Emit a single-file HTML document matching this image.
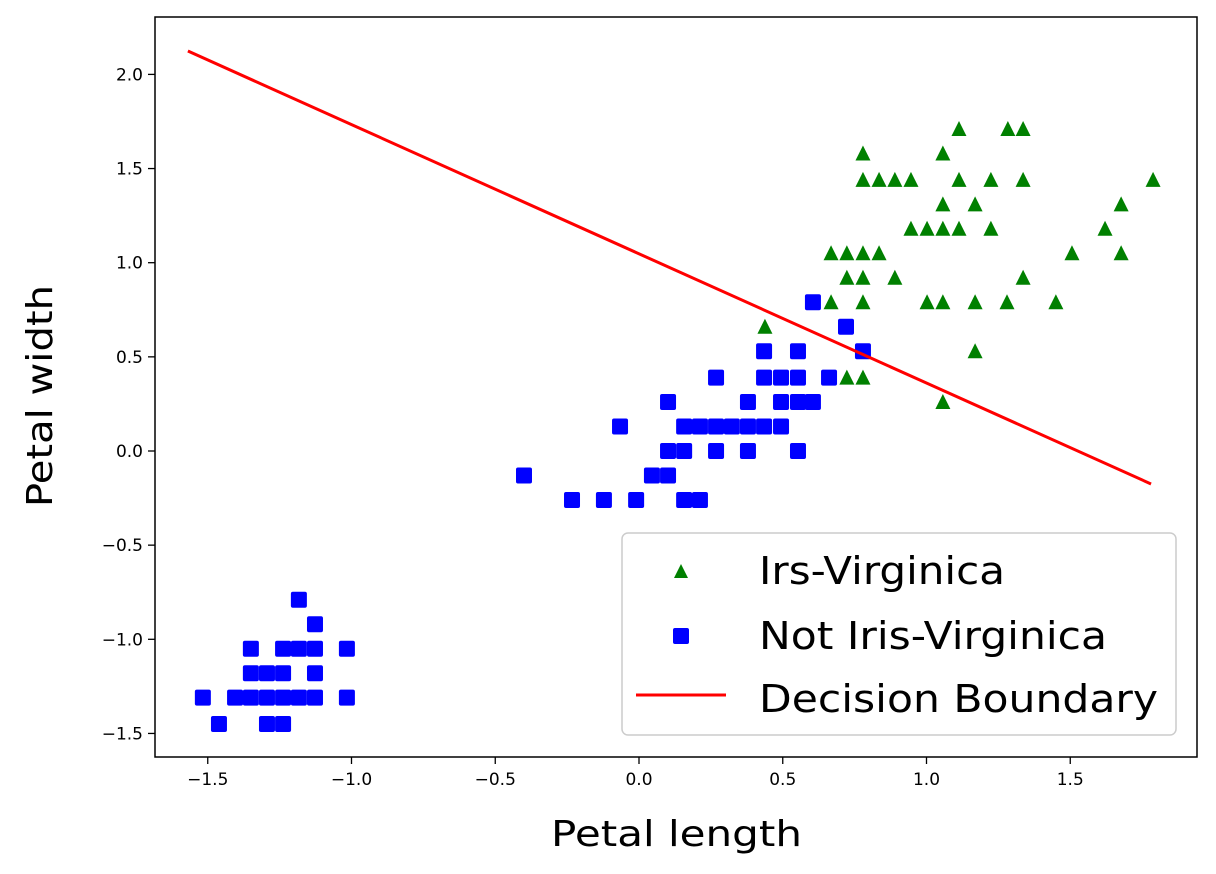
<!DOCTYPE html>
<html><head><meta charset="utf-8"><style>
body{margin:0;background:#fff;}
svg{display:block;font-family:"DejaVu Sans","Liberation Sans",sans-serif;}
</style></head><body>
<svg id="chart" width="1216" height="874">
<rect width="1216" height="874" fill="#fff"/>
<g id="marks"></g>
<rect x="155" y="17" width="1042" height="740" fill="none" stroke="#000" stroke-width="1.5"/>
<g id="axes"></g>
<text x="551" y="846" font-size="36" textLength="251" lengthAdjust="spacingAndGlyphs">Petal length</text>
<text transform="translate(52,507) rotate(-90)" font-size="36" textLength="222" lengthAdjust="spacingAndGlyphs">Petal width</text>
<g>
<rect x="622" y="533" width="554" height="202" rx="6" fill="#fff" fill-opacity="0.8" stroke="#ccc" stroke-width="1.5"/>
<polygon points="681,564 674,578 688,578" fill="green"/>
<text x="759" y="584" font-size="38" textLength="246" lengthAdjust="spacingAndGlyphs">Irs-Virginica</text>
<rect x="673" y="628" width="16" height="16" rx="2" fill="blue"/>
<text x="759" y="649" font-size="38" textLength="348" lengthAdjust="spacingAndGlyphs">Not Iris-Virginica</text>
<line x1="636" y1="695" x2="726" y2="695" stroke="red" stroke-width="3"/>
<text x="759" y="712" font-size="38" textLength="399" lengthAdjust="spacingAndGlyphs">Decision Boundary</text>
</g>
</svg>
<script>
const xTicks=[-1.5,-1.0,-0.5,0.0,0.5,1.0,1.5];
const yTicks=[-1.5,-1.0,-0.5,0.0,0.5,1.0,1.5,2.0];
const virgX=[1.113,1.283,1.336, 0.779,1.057, 0.779,0.835,0.890,0.946,1.113,1.224,1.336,1.788, 1.057,1.169,1.677, 0.946,1.002,1.057,1.113,1.224,1.621, 0.668,0.723,0.779,0.835,1.506,1.677, 0.723,0.779,0.890,1.336, 0.668,0.779,1.002,1.057,1.169,1.280,1.450, 0.438, 1.169, 0.723,0.779, 1.057];
const virgY=[1.71,1.71,1.71, 1.58,1.58, 1.44,1.44,1.44,1.44,1.44,1.44,1.44,1.44, 1.31,1.31,1.31, 1.18,1.18,1.18,1.18,1.18,1.18, 1.05,1.05,1.05,1.05,1.05,1.05, 0.92,0.92,0.92,0.92, 0.79,0.79,0.79,0.79,0.79,0.79,0.79, 0.66, 0.53, 0.39,0.39, 0.26];
const notX=[0.605,0.720,0.435,0.553,0.779,0.268,0.435,0.494,0.553,0.661,0.101,0.379,0.494,0.553,0.605,-0.066,0.157,0.212,0.268,0.323,0.379,0.435,0.494,0.101,0.157,0.268,0.379,0.553,-0.400,0.045,0.101,-0.233,-0.122,-0.010,0.157,0.212,
-1.183,-1.127,-1.350,-1.238,-1.183,-1.127,-1.016,-1.350,-1.294,-1.238,-1.127,-1.517,-1.405,-1.350,-1.294,-1.238,-1.183,-1.127,-1.016,-1.461,-1.294,-1.238];
const notY=[0.79,0.66,0.53,0.53,0.53,0.39,0.39,0.39,0.39,0.39,0.26,0.26,0.26,0.26,0.26,0.13,0.13,0.13,0.13,0.13,0.13,0.13,0.13,0.0,0.0,0.0,0.0,0.0,-0.13,-0.13,-0.13,-0.26,-0.26,-0.26,-0.26,-0.26,
-0.79,-0.92,-1.05,-1.05,-1.05,-1.05,-1.05,-1.18,-1.18,-1.18,-1.18,-1.31,-1.31,-1.31,-1.31,-1.31,-1.31,-1.31,-1.31,-1.45,-1.45,-1.45];
const lineX=[-1.569,1.781];
const lineY=[2.124,-0.175];
const NS='http://www.w3.org/2000/svg';
const sx=v=>639+v*287.5;
const sy=v=>451-v*188.3;
const marks=document.getElementById('marks'),axes=document.getElementById('axes');
function mk(tag,at,parent){const e=document.createElementNS(NS,tag);for(const k in at)e.setAttribute(k,at[k]);parent.appendChild(e);return e;}
xTicks.forEach(t=>{
 const l=mk('line',{x1:sx(t),x2:sx(t),y1:757,y2:764,stroke:'#000','stroke-width':1.3},axes);
 
 
 const tx=mk('text',{x:sx(t),y:785,'font-size':17,'text-anchor':'middle'},axes);
 tx.textContent=(t<0?'\u2212':'')+Math.abs(t).toFixed(1);
 
 
});
yTicks.forEach(t=>{
 const l=mk('line',{x1:148,x2:155,y1:sy(t),y2:sy(t),stroke:'#000','stroke-width':1.3},axes);
 
 
 const tx=mk('text',{x:143,y:sy(t)+6,'font-size':17,'text-anchor':'end'},axes);
 tx.textContent=(t<0?'\u2212':'')+Math.abs(t).toFixed(1);
 
 
});
notX.forEach((v,i)=>{
 const r=mk('rect',{x:sx(v)-8,y:sy(notY[i])-8,width:16,height:16,rx:2,fill:'blue'},marks);
 
 
});
virgX.forEach((v,i)=>{
 const x=sx(v),y=sy(virgY[i]);
 const p=mk('polygon',{points:`${x},${y-8} ${x-7.5},${y+7} ${x+7.5},${y+7}`,fill:'green'},marks);
 
 
});
const ln=mk('line',{x1:sx(lineX[0]),y1:sy(lineY[0]),x2:sx(lineX[1]),y2:sy(lineY[1]),stroke:'red','stroke-width':3},marks);


</script>
</body></html>
